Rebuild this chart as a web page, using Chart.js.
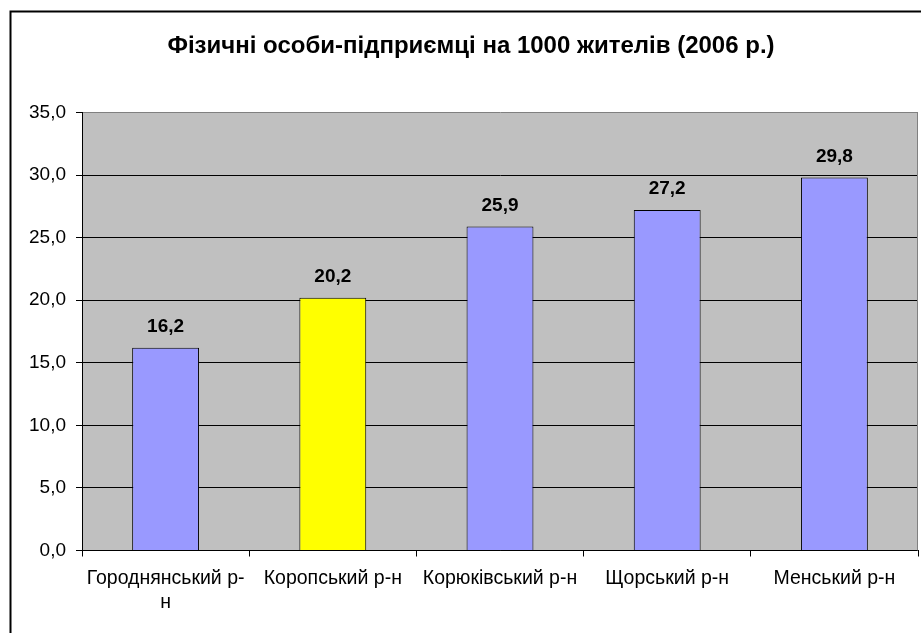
<!DOCTYPE html>
<html>
<head>
<meta charset="utf-8">
<script src="https://cdn.jsdelivr.net/npm/chart.js@4.4.1/dist/chart.umd.min.js"></script>
<style>
  html, body { margin: 0; padding: 0; background: #ffffff; }
  #wrap { width: 921px; height: 633px; position: relative; }
</style>
</head>
<body>
<div id="wrap"><canvas id="c" width="921" height="633"></canvas></div>
<script>
const titleText = 'Фізичні особи-підприємці на 1000 жителів (2006 р.)';
const categories = [['Городнянський р-', 'н'], 'Коропський р-н', 'Корюківський р-н', 'Щорський р-н', 'Менський р-н'];
const values = [16.2, 20.2, 25.9, 27.2, 29.8];
const barColors = ['#9999FF', '#FFFF00', '#9999FF', '#9999FF', '#9999FF'];
const yTicks = [0, 5, 10, 15, 20, 25, 30, 35];

const fmt = v => Number(v).toFixed(1).replace('.', ',');
const FONT = '"Liberation Sans", Arial, sans-serif';

const framePlugin = {
  id: 'frame',
  beforeDraw(chart) {
    const ctx = chart.ctx, a = chart.chartArea;
    ctx.save();
    ctx.fillStyle = '#ffffff';
    ctx.fillRect(0, 0, chart.width, chart.height);
    ctx.strokeStyle = '#000000';
    ctx.lineWidth = 2;
    ctx.strokeRect(10.5, 11.5, 1000, 1000);
    ctx.fillStyle = '#C0C0C0';
    ctx.fillRect(a.left, a.top, a.right - a.left, a.bottom - a.top);
    // title
    ctx.fillStyle = '#000000';
    ctx.font = 'bold 24px ' + FONT;
    ctx.textAlign = 'center';
    ctx.textBaseline = 'middle';
    ctx.fillText(titleText, 471, 46);
    ctx.restore();
  },
  afterDraw(chart) {
    const ctx = chart.ctx, a = chart.chartArea;
    ctx.save();
    ctx.strokeStyle = '#808080';
    ctx.lineWidth = 1;
    ctx.beginPath();
    ctx.moveTo(Math.round(a.right) - 0.5, a.top);
    ctx.lineTo(Math.round(a.right) - 0.5, a.bottom);
    ctx.stroke();
    // data labels
    const meta = chart.getDatasetMeta(0);
    ctx.fillStyle = '#000000';
    ctx.font = 'bold 19px ' + FONT;
    ctx.textAlign = 'center';
    ctx.textBaseline = 'middle';
    meta.data.forEach((bar, i) => {
      ctx.fillText(fmt(values[i]), bar.x, bar.y - 21);
    });
    ctx.restore();
  }
};

new Chart(document.getElementById('c'), {
  type: 'bar',
  data: {
    labels: categories,
    datasets: [{
      data: values,
      backgroundColor: barColors,
      borderColor: '#000000',
      borderWidth: 1,
      barPercentage: 0.4,
      categoryPercentage: 1.0
    }]
  },
  options: {
    responsive: false,
    animation: false,
    devicePixelRatio: 1,
    layout: { padding: { left: 0, right: 3, top: 112.5, bottom: 0 } },
    plugins: {
      legend: { display: false },
      tooltip: { enabled: false },
      title: { display: false }
    },
    scales: {
      x: {
        offset: true,
        grid: { offset: true, drawOnChartArea: false, color: '#000000', tickLength: 6, tickColor: '#000000' },
        border: { color: '#000000', width: 1 },
        ticks: {
          color: '#000000',
          font: { family: FONT, size: 19.5, lineHeight: 1.25 },
          padding: 10,
          maxRotation: 0,
          autoSkip: false
        },
        afterFit(s) { s.height = 82.5; }
      },
      y: {
        min: 0,
        max: 35,
        afterBuildTicks(s) { s.ticks = yTicks.map(v => ({ value: v })); },
        grid: {
          color: ctx => (ctx.tick && ctx.tick.value === 35) ? '#808080' : '#000000',
          tickColor: '#000000',
          tickLength: 6,
          lineWidth: 1
        },
        border: { color: '#000000', width: 1 },
        ticks: {
          color: '#000000',
          font: { family: FONT, size: 19 },
          padding: 10,
          callback: v => fmt(v)
        },
        afterFit(s) { s.width = 82; }
      }
    }
  },
  plugins: [framePlugin]
});
</script>
</body>
</html>
